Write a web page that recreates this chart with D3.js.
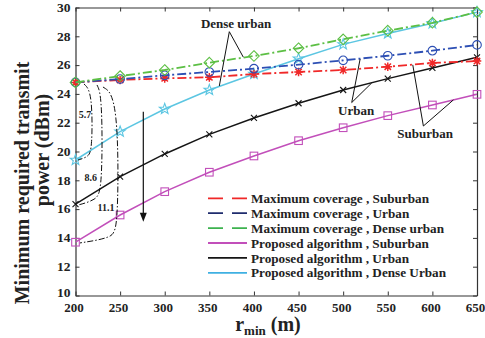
<!DOCTYPE html>
<html><head><meta charset="utf-8">
<script src="https://cdn.jsdelivr.net/npm/d3@7"></script>
<style>
html,body{margin:0;padding:0;background:#fff;}
svg{display:block;}
text{font-family:"Liberation Serif","Times New Roman",serif;font-weight:bold;fill:#222;}
</style></head>
<body><svg id="c" width="485" height="338"></svg>
<script>
// ---------- data ----------
const rMin = [200,250,300,350,400,450,500,550,600,650];
const xTicks = [200,250,300,350,400,450,500,550,600,650];
const yTicks = [10,12,14,16,18,20,22,24,26,28,30];
const mcSuburban = [24.8,24.97,25.08,25.15,25.38,25.52,25.66,25.89,26.15,26.28];
const mcUrban    = [24.8,25.03,25.29,25.52,25.75,26.03,26.33,26.65,27.0,27.4];
const mcDense    = [24.8,25.24,25.66,26.17,26.63,27.17,27.79,28.39,28.94,29.68];
const paSuburban = [13.7,15.59,17.21,18.56,19.69,20.75,21.65,22.49,23.23,23.97];
const paUrban    = [16.35,18.25,19.83,21.19,22.33,23.35,24.27,25.06,25.8,26.54];
const paDense    = [19.41,21.38,22.95,24.27,25.38,26.44,27.44,28.2,28.9,29.68];
const seriesNames = ["Maximum coverage , Suburban","Maximum coverage , Urban","Maximum coverage , Dense urban",
                     "Proposed algorithm , Suburban","Proposed algorithm , Urban","Proposed algorithm , Dense Urban"];
// annotation anchors (data units)
const gapLabels = ["5.7","8.6","11.1"];
const gapLabelPos = [[210.7,22.58],[217,18.2],[234.2,16.1]];
const gapPaths = [
  [[209.5,24.69],[218.8,24.13],[218.8,20.1],[214,19.62],[202.8,19.41]],
  [[224.1,24.62],[230,23.85],[230,17.33],[223,16.63],[202.8,16.28]],
  [[230.8,24.48],[248,23.78],[248,14.69],[241,14.0],[205,13.65]]
];
const callouts = [
  {text:"Dense urban", pos:[380,28.92], apex:[372.4,28.32], ends:[[361.2,24.55],[388.1,26.55]]},
  {text:"Urban", pos:[514.5,22.88], apex:[509.6,23.4], ends:[[519,26.42],[532,24.76]]},
  {text:"Suburban", pos:[591.8,21.28], apex:[589.9,21.77], ends:[[578,26.02],[623.5,23.58]]}
];
const arrowX = 276, arrowFrom = 22.76, arrowTo = 15.13;

// ---------- styles ----------
const styles = [
  {data:mcSuburban, color:"#f02828", legendColor:"#f02828", dash:"9,3,2,3", w:1.8, mark:"asterisk", dashedLegend:true},
  {data:mcUrban,    color:"#2d4fb4", legendColor:"#1f2c6e", dash:"9,3,2,3", w:1.8, mark:"circle", dashedLegend:true},
  {data:mcDense,    color:"#5cbf44", legendColor:"#3db24f", dash:"9,3,2,3", w:1.8, mark:"diamond", dashedLegend:true},
  {data:paSuburban, color:"#c24fba", legendColor:"#c24fba", dash:null, w:1.5, mark:"square"},
  {data:paUrban,    color:"#151515", legendColor:"#151515", dash:null, w:1.5, mark:"x"},
  {data:paDense,    color:"#5cc6e2", legendColor:"#3fb0e2", dash:null, w:1.5, mark:"star"}
];

const svg = d3.select("#c");
const L=75.5, R=477, T=7.5, B=295.5;
const x = d3.scaleLinear().domain([200,650]).range([L,R]);
const y = d3.scaleLinear().domain([10,30]).range([B,T]);

// axes (box with inward ticks)
const axCol = "#333";
const gB = svg.append("g").attr("transform",`translate(0,${B})`)
  .call(d3.axisBottom(x).tickValues(xTicks).tickSizeInner(-4).tickSizeOuter(0).tickPadding(7));
const gT = svg.append("g").attr("transform",`translate(0,${T})`)
  .call(d3.axisTop(x).tickValues(xTicks).tickSizeInner(-4).tickSizeOuter(0).tickFormat(""));
const gL = svg.append("g").attr("transform",`translate(${L},0)`)
  .call(d3.axisLeft(y).tickValues(yTicks).tickSizeInner(-4).tickSizeOuter(0).tickPadding(5));
const gR = svg.append("g").attr("transform",`translate(${R},0)`)
  .call(d3.axisRight(y).tickValues(yTicks).tickSizeInner(-4).tickSizeOuter(0).tickFormat(""));
[gB,gT,gL,gR].forEach(g=>{
  g.selectAll("path").attr("stroke",axCol).attr("stroke-width",1.2);
  g.selectAll("line").attr("stroke",axCol).attr("stroke-width",1);
  g.selectAll("text").attr("font-family","Liberation Serif").attr("font-weight","bold")
    .attr("font-size",13.5).attr("fill","#222");
});
gB.selectAll("text").attr("dx",-2).attr("font-size",13);
gL.selectAll("text").attr("dy","0.28em");
gL.selectAll("text").filter(d=>d===yTicks[0]).attr("dy","0.05em");

// marker generator
function marker(sel, type, color){
  if(type==="circle") sel.append("circle").attr("r",4.3).attr("fill","none").attr("stroke",color).attr("stroke-width",1.1);
  else if(type==="square") sel.append("rect").attr("x",-3.8).attr("y",-3.8).attr("width",7.6).attr("height",7.6).attr("fill","none").attr("stroke",color).attr("stroke-width",1.1);
  else if(type==="diamond") sel.append("path").attr("d",`M0,${-5.3}L${5.3},0L0,${5.3}L${-5.3},0Z`).attr("fill","none").attr("stroke",color).attr("stroke-width",1.1);
  else if(type==="x") sel.append("path").attr("d",`M-3,-3L3,3M-3,3L3,-3`).attr("stroke",color).attr("stroke-width",1.1);
  else if(type==="asterisk") sel.append("path").attr("d",`M-4.3,0L4.3,0M0,-4.3L0,4.3M-3.2,-3.2L3.2,3.2M-3.2,3.2L3.2,-3.2`).attr("stroke",color).attr("stroke-width",1.5);
  else if(type==="star"){
    const pts=[];
    for(let i=0;i<10;i++){const a=-Math.PI/2+i*Math.PI/5; const r=i%2?2.3:5.6; pts.push([r*Math.cos(a),r*Math.sin(a)]);}
    sel.append("path").attr("d","M"+pts.map(p=>p.join(",")).join("L")+"Z").attr("fill","none").attr("stroke",color).attr("stroke-width",1.1);
  }
}

// series lines
const line = d3.line().x((d,i)=>x(rMin[i])).y(d=>y(d));
const drawOrder = [3,4,5,0,1,2];
drawOrder.forEach(k=>{
  const st = styles[k];
  svg.append("path").datum(st.data).attr("d",line).attr("fill","none")
    .attr("stroke",st.color).attr("stroke-width",st.w)
    .attr("stroke-dasharray",st.dash);
  st.data.forEach((v,i)=>{
    const g = svg.append("g").attr("transform",`translate(${x(rMin[i])},${y(v)})`);
    marker(g, st.mark, st.color);
  });
});

// gap brackets
const bl = d3.line().x(d=>x(d[0])).y(d=>y(d[1])).curve(d3.curveBasis);
gapPaths.forEach(p=>{
  svg.append("path").attr("d",bl(p)).attr("fill","none").attr("stroke","#111")
    .attr("stroke-width",1).attr("stroke-dasharray","6,2,1.5,2");
});
gapLabels.forEach((t,i)=>{
  svg.append("text").attr("x",x(gapLabelPos[i][0])).attr("y",y(gapLabelPos[i][1])).attr("dy","0.35em")
    .attr("text-anchor","middle").attr("font-size",10).text(t);
});

// arrow
svg.append("line").attr("x1",x(arrowX)).attr("x2",x(arrowX)).attr("y1",y(arrowFrom)).attr("y2",y(arrowTo)-7)
  .attr("stroke","#111").attr("stroke-width",1.2);
svg.append("path").attr("d",`M${x(arrowX)-3.5},${y(arrowTo)-9}L${x(arrowX)+3.5},${y(arrowTo)-9}L${x(arrowX)},${y(arrowTo)}Z`).attr("fill","#111");

// callouts
callouts.forEach(c=>{
  c.ends.forEach(e=>{
    svg.append("line").attr("x1",x(c.apex[0])).attr("y1",y(c.apex[1])).attr("x2",x(e[0])).attr("y2",y(e[1]))
      .attr("stroke","#111").attr("stroke-width",1);
  });
  svg.append("text").attr("x",x(c.pos[0])).attr("y",y(c.pos[1])).attr("dy","0.35em")
    .attr("text-anchor","middle").attr("font-size",13).attr("fill","#222").text(c.text);
});

// legend
const lgX = 208, lgY = 198.3, lgStep = 14.9;
styles.forEach((st,i)=>{
  const yy = lgY + i*lgStep;
  svg.append("line").attr("x1",lgX).attr("x2",lgX+39).attr("y1",yy).attr("y2",yy)
    .attr("stroke",st.legendColor).attr("stroke-width",1.8)
    .attr("stroke-dasharray",st.dashedLegend?"15,9":null);
  svg.append("text").attr("x",lgX+43).attr("y",yy).attr("dy","0.35em").attr("font-size",13.2)
    .attr("fill","#222").text(seriesNames[i]);
});

// axis labels
const xl = svg.append("text").attr("x",268).attr("y",331).attr("text-anchor","middle").attr("font-size",20);
xl.append("tspan").text("r");
xl.append("tspan").attr("font-size",13).attr("dy",4).text("min");
xl.append("tspan").attr("dy",-4).text(" (m)");

svg.append("text").attr("transform","translate(29,183) rotate(-90)").attr("text-anchor","middle")
  .attr("font-size",20).text("Minimum required transmit");
svg.append("text").attr("transform","translate(49,150) rotate(-90)").attr("text-anchor","middle")
  .attr("font-size",20).text("power (dBm)");
</script></body></html>
